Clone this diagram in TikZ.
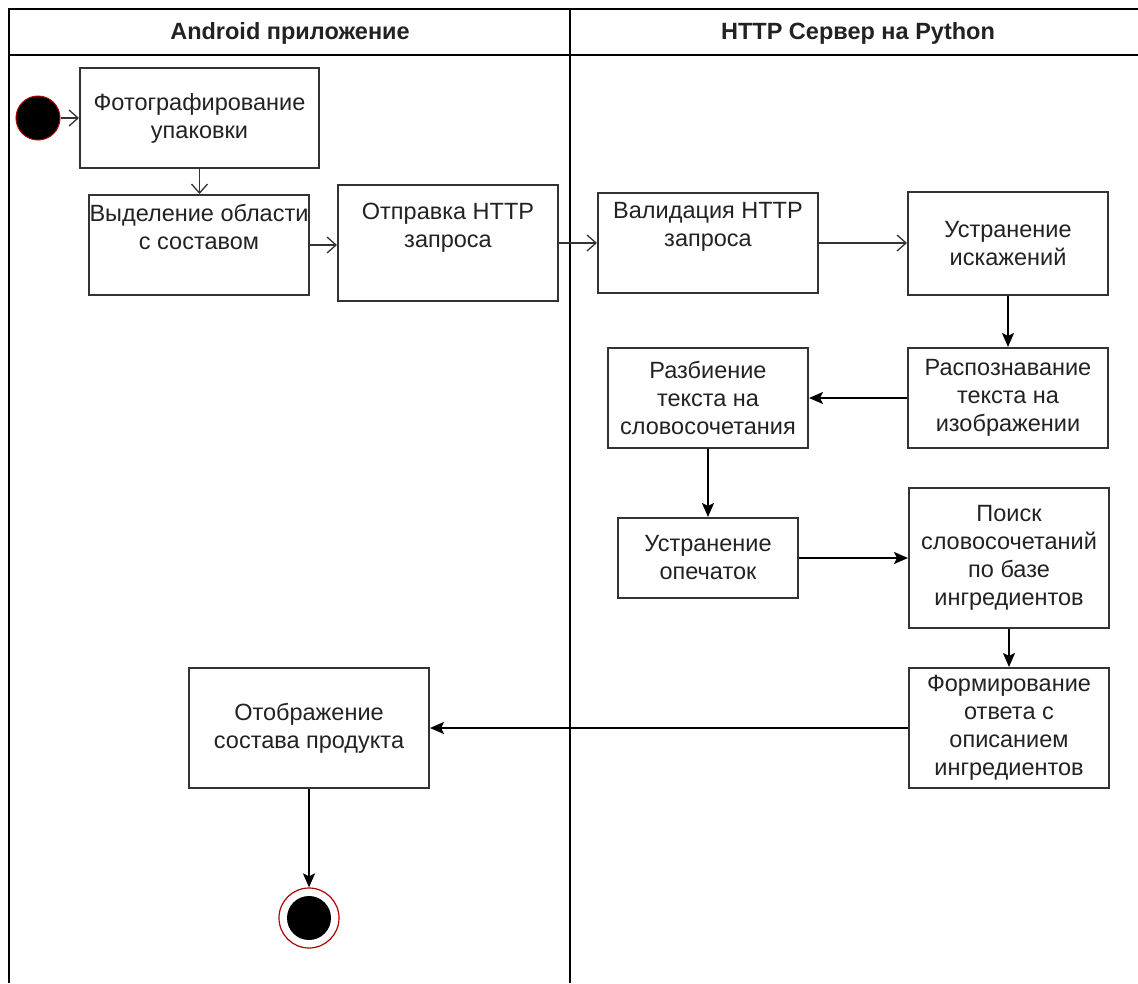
\documentclass[tikz,border=0pt]{standalone}
\usepackage{fontspec}
\setmainfont{Liberation Sans}
\usetikzlibrary{arrows.meta}
\definecolor{boxline}{HTML}{333333}
\definecolor{txt}{HTML}{222222}
\definecolor{ringred}{HTML}{B20000}
\begin{document}
\begin{tikzpicture}[x=1pt,y=-1pt,
  act/.style={draw=boxline,line width=2pt,fill=white,align=center,inner sep=0pt,
    text=txt,font=\fontsize{23.5}{28}\selectfont},
  lane/.style={draw=black,line width=1.5pt},
  openar/.style={draw=boxline,line width=1.3pt,-{Straight Barb[length=9pt,width=16pt,line width=1.3pt]}},
  fillar/.style={draw=black,line width=2pt,-{Stealth[length=14pt,width=12pt,inset=3pt]}},
  hdr/.style={font=\bfseries\fontsize{23.5}{26}\selectfont,text=txt}
]
\useasboundingbox (0,0) rectangle (1138,983);
% swimlanes
\draw[lane] (9,983) -- (9,9) -- (1138,9);
\draw[lane] (9,55) -- (1138,55);
\draw[lane] (570,9) -- (570,983);
\node[hdr] (h1) at (290,33) {Android приложение};
\node[hdr] (h2) at (858,33) {HTTP Сервер на Python};
% start / end
\node[circle,fill=black,draw=ringred,line width=1pt,minimum size=44pt,inner sep=0pt] (start) at (38,118) {};
\node[circle,draw=ringred,line width=1.2pt,fill=white,minimum size=60pt,inner sep=0pt] (end) at (309,918) {};
\node[circle,fill=black,minimum size=44pt,inner sep=0pt] (endin) at (309,918) {};
% activities
\node[act,minimum width=239pt,minimum height=100pt] (b1) at (199.5,118) {Фотографирование\\упаковки};
\node[act,minimum width=220pt,minimum height=100pt] (b2) at (199,245) {Выделение области\\с составом\\\strut};
\node[act,minimum width=220pt,minimum height=116pt] (b3) at (448,243) {Отправка HTTP\\запроса\\\strut};
\node[act,minimum width=220pt,minimum height=100pt] (b4) at (708,243) {Валидация HTTP\\запроса\\\strut};
\node[act,minimum width=200pt,minimum height=103pt] (b5) at (1008,243.5) {Устранение\\искажений};
\node[act,minimum width=200pt,minimum height=100pt] (b6) at (1008,398) {Распознавание\\текста на\\изображении};
\node[act,minimum width=200pt,minimum height=100pt] (b7) at (708,398) {Разбиение\\текста на\\словосочетания};
\node[act,minimum width=180pt,minimum height=80pt] (b8) at (708,558) {Устранение\\опечаток};
\node[act,minimum width=200pt,minimum height=140pt] (b9) at (1009,558) {Поиск\\словосочетаний\\по базе\\ингредиентов};
\node[act,minimum width=200pt,minimum height=120pt] (b10) at (1009,728) {Формирование\\ответа с\\описанием\\ингредиентов};
\node[act,minimum width=240pt,minimum height=120pt] (b11) at (309,728) {Отображение\\состава продукта};
% connectors
\draw[openar] (start.east) -- (b1.west);
\draw[openar] (b1.south) -- (b1.south |- b2.north);
\draw[openar] (b2.east) -- (b2.east -| b3.west);
\draw[openar] (b3.east) -- (b3.east -| b4.west);
\draw[openar] (b4.east) -- (b4.east -| b5.west);
\draw[fillar] (b5.south) -- (b6.north);
\draw[fillar] (b6.west) -- (b7.east);
\draw[fillar] (b7.south) -- (b8.north);
\draw[fillar] (b8.east) -- (b9.west);
\draw[fillar] (b9.south) -- (b10.north);
\draw[fillar] (b10.west) -- (b11.east);
\draw[fillar] (b11.south) -- (end.north);
\end{tikzpicture}
\end{document}
